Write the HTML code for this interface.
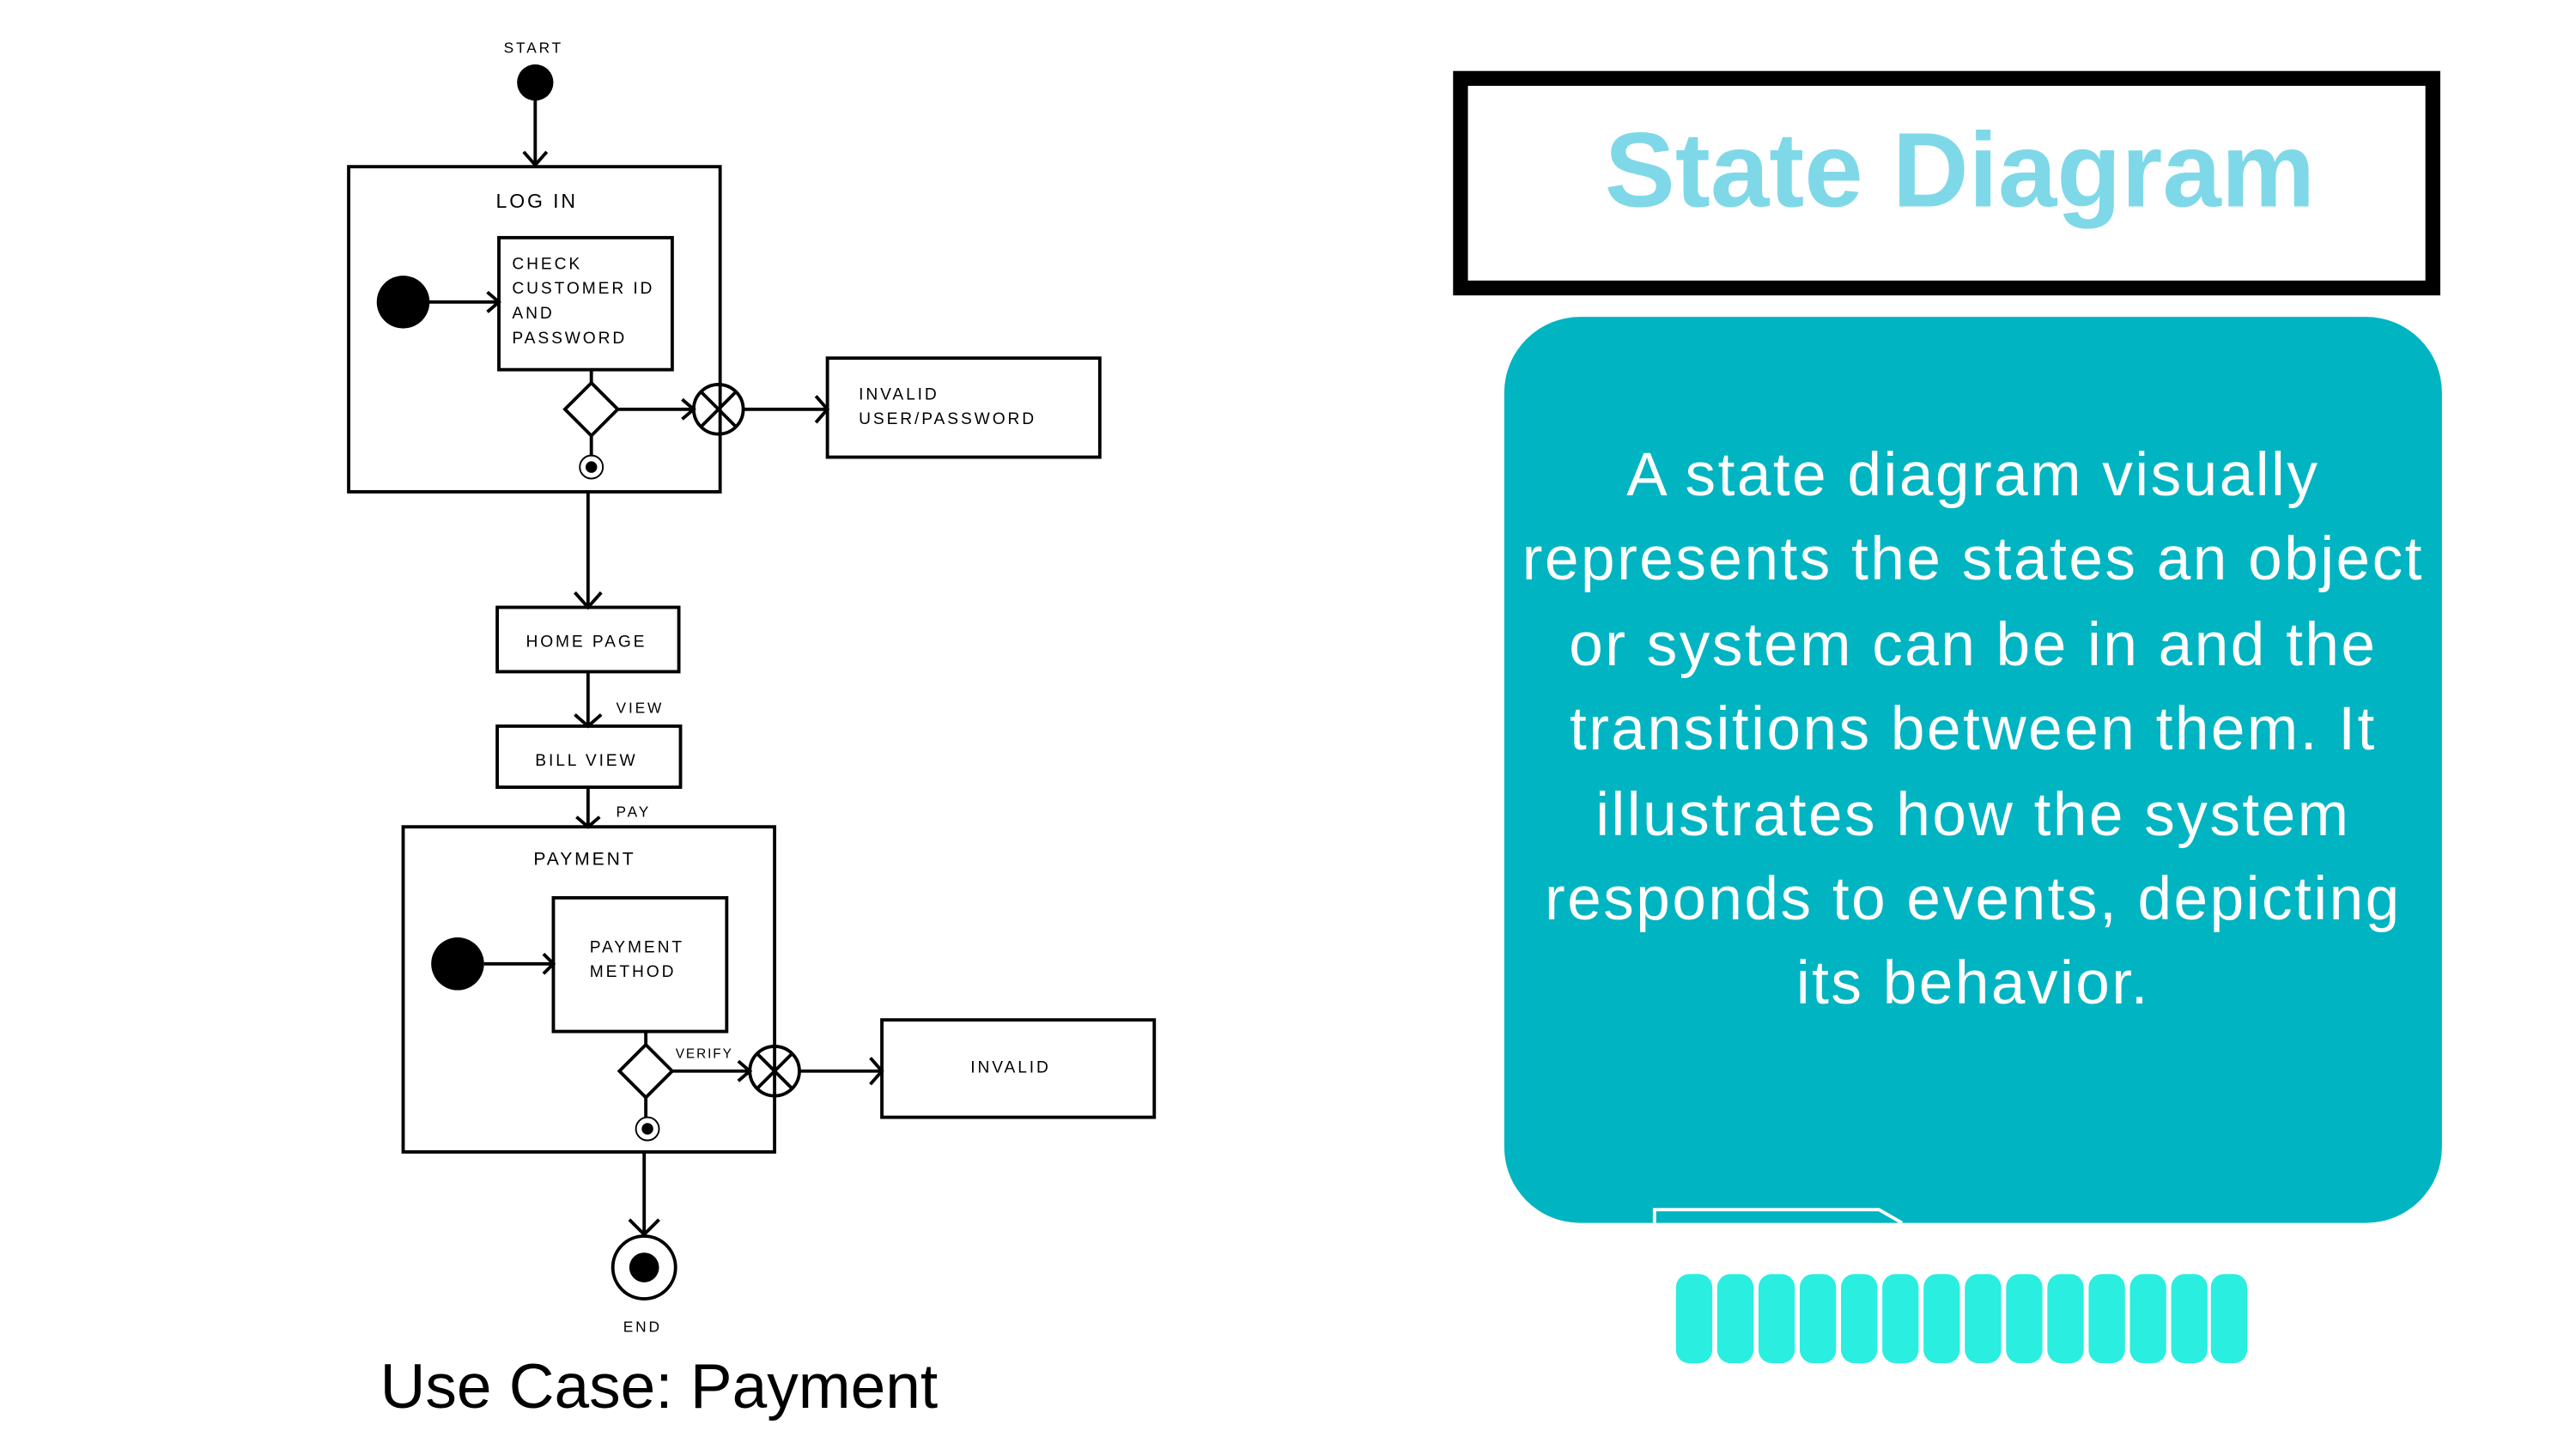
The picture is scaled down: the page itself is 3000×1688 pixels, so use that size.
<!DOCTYPE html>
<html><head><meta charset="utf-8"><style>
html,body{margin:0;padding:0;background:#fff;}
svg{display:block;}
</style></head><body>
<svg width="3000" height="1688" viewBox="0 0 1560 878" xmlns="http://www.w3.org/2000/svg" font-family="Liberation Sans, sans-serif">
<rect width="1560" height="878" fill="#fff"/>
<g stroke="#000" stroke-width="2" fill="none">
  <line x1="324" y1="60" x2="324" y2="100"/>
  <polyline points="317,92 324,100 331,92"/>
  <rect x="211" y="101" width="225" height="197"/>
  <rect x="302" y="144" width="105" height="80"/>
  <line x1="258" y1="183" x2="302" y2="183"/>
  <polyline points="295,177 302,183 295,189"/>
  <line x1="358" y1="224" x2="358" y2="232"/>
  <polygon points="358,232 374,248 358,264 342,248"/>
  <line x1="374" y1="248" x2="420" y2="248"/>
  <polyline points="413,242 420,248 413,254"/>
  <circle cx="435" cy="248" r="15"/>
  <line x1="424" y1="237" x2="446" y2="259"/><line x1="446" y1="237" x2="424" y2="259"/>
  <line x1="450" y1="248" x2="501" y2="248"/>
  <polyline points="494,240 501,248 494,256"/>
  <rect x="501" y="217" width="165" height="60"/>
  <line x1="358" y1="264" x2="358" y2="276"/>
  <circle cx="358" cy="283" r="7" stroke-width="1"/>
  <line x1="356" y1="298" x2="356" y2="368"/>
  <polyline points="348,359 356,368 364,359"/>
  <rect x="301" y="368" width="110" height="39"/>
  <line x1="356" y1="407" x2="356" y2="440"/>
  <polyline points="348,433 356,440 364,433"/>
  <rect x="301" y="440" width="111" height="37"/>
  <line x1="356" y1="477" x2="356" y2="501"/>
  <polyline points="349,495 356,501 363,495"/>
  <rect x="244" y="501" width="225" height="197"/>
  <rect x="335" y="544" width="105" height="81"/>
  <line x1="293" y1="584" x2="335" y2="584"/>
  <polyline points="329,578 335,584 329,590"/>
  <line x1="391" y1="625" x2="391" y2="633"/>
  <polygon points="391,633 407,649 391,665 375,649"/>
  <line x1="407" y1="649" x2="454" y2="649"/>
  <polyline points="447,643 454,649 447,655"/>
  <circle cx="469" cy="649" r="15"/>
  <line x1="458" y1="638" x2="480" y2="660"/><line x1="480" y1="638" x2="458" y2="660"/>
  <line x1="484" y1="649" x2="534" y2="649"/>
  <polyline points="527,641 534,649 527,657"/>
  <rect x="534" y="618" width="165" height="59"/>
  <line x1="391" y1="665" x2="391" y2="677"/>
  <circle cx="392" cy="684" r="7" stroke-width="1"/>
  <line x1="390" y1="698" x2="390" y2="748"/>
  <polyline points="381,739 390,748 399,739"/>
  <circle cx="390" cy="768" r="19"/>
</g>
<g fill="#000">
  <circle cx="324" cy="50" r="11"/>
  <circle cx="244" cy="183" r="16"/>
  <circle cx="277" cy="584" r="16"/>
  <circle cx="390" cy="768" r="9"/>
  <circle cx="358" cy="283" r="3.5"/>
  <circle cx="392" cy="684" r="3.5"/>
</g>
<g font-size="10" letter-spacing="1.5" fill="#000">
  <text x="323" y="32" text-anchor="middle" font-size="9">START</text>
  <text x="325" y="126" text-anchor="middle" font-size="12">LOG IN</text>
  <text x="310" y="163">CHECK</text>
  <text x="310" y="178">CUSTOMER ID</text>
  <text x="310" y="193">AND</text>
  <text x="310" y="208">PASSWORD</text>
  <text x="520" y="242">INVALID</text>
  <text x="520" y="257">USER/PASSWORD</text>
  <text x="355" y="392" text-anchor="middle">HOME PAGE</text>
  <text x="373" y="432" font-size="9">VIEW</text>
  <text x="355" y="464" text-anchor="middle">BILL VIEW</text>
  <text x="373" y="495" font-size="9">PAY</text>
  <text x="354" y="524" text-anchor="middle" font-size="11">PAYMENT</text>
  <text x="357" y="577">PAYMENT</text>
  <text x="357" y="592">METHOD</text>
  <text x="409" y="641" font-size="8" letter-spacing="1">VERIFY</text>
  <text x="612" y="650" text-anchor="middle">INVALID</text>
  <text x="389" y="807" text-anchor="middle" font-size="9">END</text>
</g>
<text x="230" y="853" font-size="38" fill="#000">Use Case: Payment</text>
<rect x="884.5" y="47.5" width="589" height="127" fill="#fff" stroke="#000" stroke-width="9"/>
<text x="1187" y="125" text-anchor="middle" font-size="64" font-weight="bold" fill="#7fd8e8">State Diagram</text>
<rect x="911" y="192" width="568" height="549" rx="46" fill="#00b4c2"/>
<g font-size="37" fill="#fff" text-anchor="middle" letter-spacing="1.3">
  <text x="1195" y="300">A state diagram visually</text>
  <text x="1195" y="351">represents the states an object</text>
  <text x="1195" y="403">or system can be in and the</text>
  <text x="1195" y="454">transitions between them. It</text>
  <text x="1195" y="506">illustrates how the system</text>
  <text x="1195" y="557">responds to events, depicting</text>
  <text x="1195" y="608">its behavior.</text>
</g>
<polyline points="1002,741 1002,733 1138,733 1152,741" fill="none" stroke="#fff" stroke-width="2"/>
<g fill="#2aeee0">
  <rect x="1015" y="772" width="22" height="54" rx="8"/>
  <rect x="1040" y="772" width="22" height="54" rx="8"/>
  <rect x="1065" y="772" width="22" height="54" rx="8"/>
  <rect x="1090" y="772" width="22" height="54" rx="8"/>
  <rect x="1115" y="772" width="22" height="54" rx="8"/>
  <rect x="1140" y="772" width="22" height="54" rx="8"/>
  <rect x="1165" y="772" width="22" height="54" rx="8"/>
  <rect x="1190" y="772" width="22" height="54" rx="8"/>
  <rect x="1215" y="772" width="22" height="54" rx="8"/>
  <rect x="1240" y="772" width="22" height="54" rx="8"/>
  <rect x="1265" y="772" width="22" height="54" rx="8"/>
  <rect x="1290" y="772" width="22" height="54" rx="8"/>
  <rect x="1315" y="772" width="22" height="54" rx="8"/>
  <rect x="1339" y="772" width="22" height="54" rx="8"/>
</g>
</svg>
</body></html>
